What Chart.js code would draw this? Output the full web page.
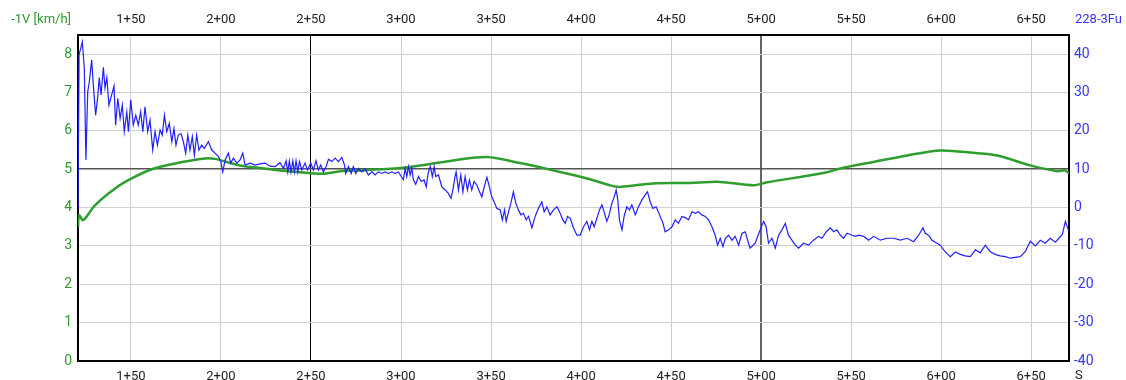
<!DOCTYPE html>
<html>
<head>
<meta charset="utf-8">
<script src="https://cdn.jsdelivr.net/npm/chart.js@4.4.1/dist/chart.umd.min.js"></script>
<style>
    html, body { margin: 0; padding: 0; background: #fff; }
    #wrap { width: 1126px; height: 380px; }
</style>
</head>
<body>
<div id="wrap"><canvas id="chart" width="1126" height="380"></canvas></div>
<script>
// stationing range shown (m) and axis ranges
const stationRange = [120.6, 671];
const stationTicks = [150, 200, 250, 300, 350, 400, 450, 500, 550, 600, 650];
const speedRange = [0, 8.5];
const rightRange = [-40, 45];

const leftTitle = '-1V [km/h]';
const rightTitle = '228-3Fu';
const bottomTitle = 'S';

// green: speed, left axis  [station, value]
const speedTrace = [
    [120.6, 3.5], [121.2, 3.8], [123.5, 3.67], [130.0, 4.06], [141.2, 4.5], [150.4, 4.76],
    [161.6, 5.0], [174.5, 5.15], [191.2, 5.28], [196.7, 5.27], [202.3, 5.2], [210.6, 5.1],
    [221.7, 5.03], [232.8, 4.97], [244.0, 4.92], [256.2, 4.88], [266.2, 4.95], [277.3, 4.97],
    [288.4, 5.0], [299.5, 5.03], [310.6, 5.1], [329.0, 5.23], [347.8, 5.32], [366.2, 5.16],
    [384.5, 4.97], [403.4, 4.76], [416.2, 4.58], [421.7, 4.54], [440.1, 4.63], [459.0, 4.64],
    [477.3, 4.67], [495.6, 4.58], [503.4, 4.66], [534.5, 4.9], [544.0, 5.02], [562.3, 5.19],
    [581.2, 5.36], [599.5, 5.49], [617.8, 5.43], [631.2, 5.36], [649.5, 5.1], [664.4, 4.95],
    [668.8, 4.97], [671.0, 4.9]
];

// blue: 228-3Fu, right axis  [station, value]
const fuTrace = [
    [120.6, -0.1], [121.2, 39.8], [123.0, 43.2], [124.1, 36.4], [125.0, 12.4], [126.0, 30.2],
    [126.9, 32.8], [128.2, 38.5], [129.1, 32.0], [130.4, 24.1], [131.5, 28.6], [132.4, 33.9],
    [133.4, 29.4], [134.7, 36.6], [135.6, 31.2], [136.6, 33.9], [137.8, 26.7], [139.3, 29.4],
    [140.6, 31.7], [141.5, 21.5], [142.7, 28.5], [144.0, 23.3], [145.2, 26.7], [146.3, 19.8],
    [147.7, 24.9], [148.6, 19.8], [149.9, 28.1], [151.3, 21.5], [152.7, 24.1], [154.1, 21.5],
    [155.4, 25.0], [156.6, 19.8], [157.8, 26.3], [159.3, 19.8], [160.6, 22.8], [162.1, 15.0],
    [163.4, 19.8], [164.7, 16.3], [166.2, 20.2], [167.4, 18.9], [168.6, 24.1], [169.9, 19.8],
    [171.3, 22.0], [172.7, 17.2], [173.9, 20.6], [175.0, 16.3], [176.3, 18.9], [177.8, 19.3],
    [179.1, 17.2], [180.4, 14.2], [181.6, 18.9], [182.8, 15.0], [184.1, 18.5], [185.2, 13.7],
    [186.5, 18.9], [187.8, 15.0], [189.3, 16.3], [190.7, 15.4], [193.0, 17.2], [194.9, 15.0],
    [196.7, 14.2], [198.6, 13.3], [199.9, 12.0], [201.0, 9.3], [202.3, 12.4], [204.1, 14.2],
    [205.4, 11.6], [206.9, 12.9], [208.8, 11.6], [210.6, 12.4], [212.1, 14.2], [213.4, 11.1],
    [216.2, 11.6], [218.9, 11.1], [221.7, 11.4], [224.5, 11.6], [227.3, 10.8], [230.1, 10.7],
    [232.8, 11.7], [234.7, 10.2], [236.2, 12.2], [237.1, 9.3], [238.0, 12.2], [238.9, 9.3],
    [239.9, 12.2], [240.8, 9.3], [241.7, 12.2], [242.7, 9.3], [243.6, 12.0], [244.9, 9.8],
    [246.7, 11.6], [248.0, 9.8], [249.9, 11.6], [251.3, 9.8], [252.8, 12.2], [254.1, 9.8],
    [255.4, 11.1], [256.9, 9.3], [258.4, 10.7], [259.7, 12.6], [261.5, 12.0], [263.4, 12.9],
    [265.2, 12.0], [267.1, 13.1], [268.6, 11.1], [269.3, 8.9], [270.8, 10.7], [272.3, 8.9],
    [273.5, 10.7], [274.9, 8.9], [276.3, 10.2], [278.2, 9.3], [280.1, 10.0], [281.9, 8.5],
    [283.8, 9.3], [285.6, 8.5], [287.4, 9.3], [289.3, 8.9], [291.2, 9.3], [293.0, 8.9],
    [294.9, 9.3], [296.7, 8.9], [298.6, 9.3], [300.1, 8.1], [301.3, 7.3], [302.3, 10.2],
    [303.2, 8.1], [304.1, 10.7], [305.1, 8.5], [306.0, 10.2], [306.9, 7.2], [308.2, 6.1],
    [309.7, 8.1], [311.2, 6.8], [312.8, 7.2], [314.0, 5.4], [315.2, 9.3], [316.3, 10.7],
    [317.4, 8.1], [318.4, 10.7], [319.3, 8.1], [320.8, 8.5], [322.7, 5.4], [324.5, 4.6],
    [326.3, 3.7], [327.8, 2.4], [329.1, 5.4], [330.0, 8.1], [330.6, 9.3], [331.9, 4.6],
    [333.2, 8.5], [334.4, 4.1], [335.6, 8.1], [336.9, 4.6], [338.0, 7.2], [339.3, 4.6],
    [340.6, 6.8], [342.1, 5.9], [343.6, 4.1], [344.9, 2.8], [346.2, 5.4], [347.7, 7.9],
    [349.1, 5.4], [350.4, 2.8], [351.7, 1.5], [353.2, -0.2], [355.1, -0.6], [356.3, -3.2],
    [357.5, -0.6], [358.4, -3.6], [359.7, -1.1], [361.0, 1.1], [362.4, 4.1], [363.8, 1.1],
    [365.2, -0.6], [366.6, -1.9], [368.0, -1.5], [369.5, -3.2], [370.8, -2.3], [372.7, -5.3],
    [374.5, -2.3], [376.3, -0.2], [378.2, 1.5], [379.5, -1.1], [381.0, 0.2], [382.8, -1.9],
    [384.7, -0.6], [386.6, 0.2], [388.4, -1.5], [389.9, -3.2], [391.2, -4.1], [392.5, -2.3],
    [394.0, -2.8], [395.8, -5.3], [397.7, -7.2], [399.5, -7.2], [401.4, -5.0], [403.2, -3.6],
    [404.7, -5.8], [406.0, -3.6], [407.3, -5.0], [408.8, -2.8], [410.2, -0.6], [411.6, 0.7],
    [412.8, -1.1], [414.3, -3.6], [415.6, -1.9], [417.1, 1.1], [418.4, 2.8], [419.5, 4.6],
    [420.4, 2.0], [421.3, -3.2], [422.7, -5.8], [423.9, -2.3], [425.4, 0.2], [426.9, -0.6],
    [428.2, 0.7], [430.1, -1.9], [431.9, 0.2], [433.8, 2.0], [435.6, 3.3], [436.9, 4.1],
    [438.4, 1.5], [439.9, -0.2], [441.7, 0.2], [443.6, -1.9], [445.5, -4.1], [446.7, -6.3],
    [448.6, -5.8], [450.5, -5.0], [452.3, -3.2], [454.1, -4.1], [456.0, -2.3], [457.8, -2.6],
    [459.7, -3.2], [461.6, -1.1], [463.4, -1.5], [465.2, -1.1], [467.1, -1.9], [469.0, -2.3],
    [470.8, -3.2], [472.7, -5.0], [474.5, -7.2], [475.8, -9.8], [477.3, -8.0], [478.8, -10.2],
    [480.1, -8.0], [481.9, -7.2], [483.8, -8.5], [485.6, -7.5], [487.5, -9.8], [489.4, -6.7],
    [491.2, -6.3], [493.0, -9.3], [493.9, -10.6], [496.7, -9.3], [499.5, -5.8], [501.4, -3.6],
    [502.8, -5.0], [504.1, -9.3], [506.0, -8.0], [507.9, -10.6], [509.7, -7.2], [511.6, -5.8],
    [513.4, -4.1], [515.2, -7.2], [517.1, -8.5], [519.0, -9.8], [520.8, -10.6], [523.6, -9.3],
    [526.4, -9.8], [529.1, -8.5], [531.9, -7.5], [533.8, -8.0], [536.2, -6.3], [538.4, -5.3],
    [540.3, -6.3], [542.1, -5.8], [544.0, -7.2], [545.8, -8.0], [547.7, -6.7], [550.5, -7.2],
    [552.3, -7.5], [554.2, -7.2], [556.9, -7.5], [559.7, -8.5], [562.5, -7.5], [566.2, -8.5],
    [569.9, -8.0], [573.6, -8.0], [577.3, -8.5], [581.1, -8.0], [584.7, -8.9], [587.5, -7.2],
    [589.9, -5.3], [591.2, -6.7], [593.0, -7.2], [594.9, -8.5], [597.7, -9.3], [599.5, -9.8],
    [601.4, -11.0], [603.2, -12.0], [605.1, -12.8], [607.9, -11.6], [610.6, -12.2], [613.4, -12.6],
    [616.2, -12.8], [619.0, -11.0], [621.7, -11.8], [624.5, -9.8], [627.3, -11.5], [630.0, -12.2],
    [632.8, -12.6], [635.6, -12.8], [638.4, -13.2], [641.2, -13.0], [643.9, -12.8], [646.7, -11.5],
    [649.5, -8.8], [652.3, -10.0], [655.1, -8.5], [657.8, -9.3], [660.6, -8.0], [663.4, -9.0],
    [667.3, -7.0], [669.0, -3.6], [670.6, -5.8]
];

const greenLine = '#2e9e2e';
const greenText = '#2f9a2f';
const blueLine = '#1f1fff';
const blueText = '#3535ff';
const font = 'Roboto';

function stationLabel(v) {
    return Math.floor(v / 100) + '+' + String(Math.round(v % 100)).padStart(2, '0');
}

function useStationTicks(scale) {
    scale.ticks = stationTicks.map(v => ({ value: v }));
}

const cornerLabels = {
    id: 'cornerLabels',
    afterDraw(chart) {
        const ctx = chart.ctx;
        const area = chart.chartArea;
        ctx.save();
        ctx.font = '13px ' + font;
        ctx.textBaseline = 'middle';
        ctx.fillStyle = greenText;
        ctx.textAlign = 'right';
        ctx.fillText(leftTitle, area.left - 7, 20);
        ctx.fillStyle = blueText;
        ctx.textAlign = 'left';
        ctx.fillText(rightTitle, area.right + 6, 20);
        ctx.fillStyle = '#222';
        ctx.fillText(bottomTitle, area.right + 6, area.bottom + 15);
        ctx.restore();
    }
};

const frame = { display: true, color: '#000', width: 2 };

const ctx = document.getElementById('chart').getContext('2d');
new Chart(ctx, {
    type: 'line',
    data: {
        datasets: [{
            data: fuTrace.map(p => ({ x: p[0], y: p[1] })),
            yAxisID: 'y2',
            borderColor: blueLine,
            borderWidth: 1.2,
            pointRadius: 0,
            tension: 0,
        }, {
            data: speedTrace.map(p => ({ x: p[0], y: p[1] })),
            yAxisID: 'y',
            borderColor: greenLine,
            borderWidth: 2.5,
            pointRadius: 0,
            tension: 0.3,
        }]
    },
    plugins: [cornerLabels],
    options: {
        responsive: false,
        animation: false,
        devicePixelRatio: 1,
        layout: { padding: 0 },
        plugins: {
            legend: { display: false },
            tooltip: { enabled: false },
        },
        scales: {
            x: {
                type: 'linear',
                position: 'bottom',
                min: stationRange[0],
                max: stationRange[1],
                afterBuildTicks: useStationTicks,
                afterFit: s => { s.height = 19; },
                border: frame,
                grid: {
                    drawTicks: false,
                    color: c => c.tick && c.tick.value === 250 ? '#000' : (c.tick && c.tick.value === 500 ? '#666' : '#cfcfcf'),
                    lineWidth: c => c.tick && c.tick.value === 500 ? 2 : 1,
                },
                ticks: {
                    maxRotation: 0,
                    autoSkip: false,
                    padding: 8,
                    color: '#222',
                    font: { family: font, size: 13 },
                    callback: stationLabel,
                }
            },
            x2: {
                type: 'linear',
                position: 'top',
                min: stationRange[0],
                max: stationRange[1],
                afterBuildTicks: useStationTicks,
                afterFit: s => { s.height = 35; },
                border: frame,
                grid: { display: false, drawTicks: false },
                ticks: {
                    maxRotation: 0,
                    autoSkip: false,
                    padding: 7,
                    color: '#222',
                    font: { family: font, size: 13 },
                    callback: stationLabel,
                }
            },
            y: {
                position: 'left',
                min: speedRange[0],
                max: speedRange[1],
                afterFit: s => { s.width = 78; },
                border: frame,
                grid: {
                    drawTicks: false,
                    color: c => c.tick && c.tick.value === 5 ? '#555' : '#cfcfcf',
                    lineWidth: c => c.tick && c.tick.value === 5 ? 1.5 : 1,
                },
                ticks: {
                    stepSize: 1,
                    includeBounds: false,
                    padding: 6,
                    color: greenText,
                    font: { family: font, size: 14 },
                }
            },
            y2: {
                position: 'right',
                min: rightRange[0],
                max: rightRange[1],
                afterFit: s => { s.width = 57; },
                border: frame,
                grid: { display: false, drawTicks: false },
                ticks: {
                    stepSize: 10,
                    includeBounds: false,
                    padding: 5,
                    color: blueText,
                    font: { family: font, size: 14 },
                }
            }
        }
    }
});
</script>
</body>
</html>
